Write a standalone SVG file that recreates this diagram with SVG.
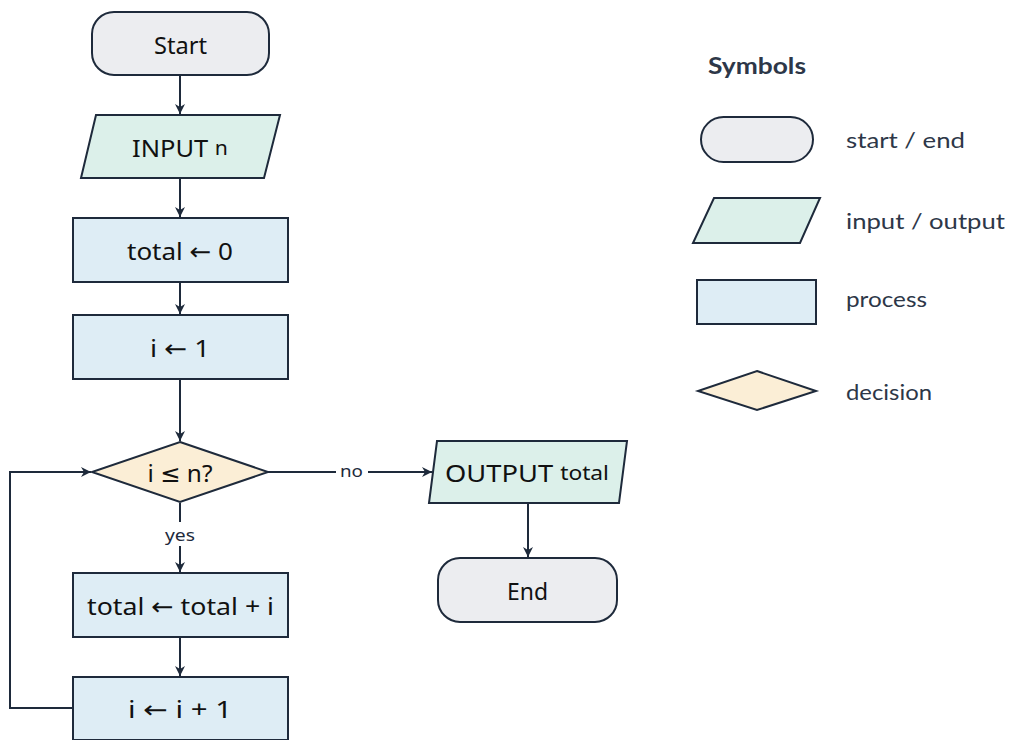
<svg xmlns="http://www.w3.org/2000/svg" width="1009" height="740" viewBox="0 0 1009 740">
  <style>
    .term { fill: #ecedf0; stroke: #1e2a3b; stroke-width: 2; }
    .io { fill: #dcf0ea; stroke: #1e2a3b; stroke-width: 2; }
    .proc { fill: #deedf5; stroke: #1e2a3b; stroke-width: 2; }
    .dec { fill: #fbeed6; stroke: #1e2a3b; stroke-width: 2; }
    .edge { fill: none; stroke: #1e2a3b; stroke-width: 2; }
    .lbl { font-family: "Noto Sans", "DejaVu Sans", sans-serif; font-size: 24px; fill: #111; text-anchor: middle; dominant-baseline: central; }
    .small { font-size: 20px; }
    .elbl { font-family: "Noto Sans", "DejaVu Sans", sans-serif; font-size: 17px; fill: #1e2a3b; text-anchor: middle; dominant-baseline: central; }
    .leg { font-family: Lato, "Open Sans", sans-serif; font-size: 22px; fill: #2d3748; dominant-baseline: central; }
    .legh { font-family: Lato, "Open Sans", sans-serif; font-size: 22px; font-weight: bold; fill: #2d3748; dominant-baseline: central; }
  </style>
  <defs>
    <marker id="arrow" viewBox="0 0 10 10" refX="10" refY="5" markerWidth="10" markerHeight="10" markerUnits="userSpaceOnUse" orient="auto">
      <path d="M0,0 L10,5 L0,10 L3,5 Z" fill="#1e2a3b"/>
    </marker>
  </defs>

  <rect width="1009" height="740" fill="#ffffff"/>

  <!-- connectors -->
  <g id="edges">
    <line class="edge" x1="180" y1="75" x2="180" y2="114" marker-end="url(#arrow)"/>
    <line class="edge" x1="180" y1="178" x2="180" y2="217" marker-end="url(#arrow)"/>
    <line class="edge" x1="180" y1="282" x2="180" y2="314" marker-end="url(#arrow)"/>
    <line class="edge" x1="180" y1="379" x2="180" y2="441" marker-end="url(#arrow)"/>
    <line class="edge" x1="180" y1="503" x2="180" y2="572" marker-end="url(#arrow)"/>
    <line class="edge" x1="180" y1="637" x2="180" y2="676" marker-end="url(#arrow)"/>
    <polyline class="edge" points="73,708 10,708 10,472 91,472" marker-end="url(#arrow)"/>
    <line class="edge" x1="268" y1="472" x2="432" y2="472" marker-end="url(#arrow)"/>
    <line class="edge" x1="528" y1="503" x2="528" y2="557" marker-end="url(#arrow)"/>
    <rect x="163" y="522" width="34" height="24" fill="#ffffff"/>
    <text class="elbl" x="180" y="534" textLength="30" lengthAdjust="spacingAndGlyphs">yes</text>
    <rect x="336" y="460" width="32" height="24" fill="#ffffff"/>
    <text class="elbl" x="351.5" y="470" textLength="23" lengthAdjust="spacingAndGlyphs">no</text>
  </g>

  <!-- flowchart nodes -->
  <g id="start">
    <rect class="term" x="92" y="12" width="177" height="63" rx="22"/>
    <text class="lbl" x="180.5" y="44" textLength="53" lengthAdjust="spacingAndGlyphs">Start</text>
  </g>
  <g id="input">
    <polygon class="io" points="96,115 280,115 264,178 81,178"/>
    <text class="lbl" x="180" y="147" textLength="96" lengthAdjust="spacingAndGlyphs">INPUT <tspan class="small">n</tspan></text>
  </g>
  <g id="init-total">
    <rect class="proc" x="73" y="218" width="215" height="64"/>
    <text class="lbl" x="180" y="250" textLength="106" lengthAdjust="spacingAndGlyphs">total ← 0</text>
  </g>
  <g id="init-i">
    <rect class="proc" x="73" y="315" width="215" height="64"/>
    <text class="lbl" x="180" y="347" textLength="60" lengthAdjust="spacingAndGlyphs">i ← 1</text>
  </g>
  <g id="check">
    <polygon class="dec" points="180,442 268,472 180,502 92,472"/>
    <text class="lbl" x="180" y="472" textLength="65" lengthAdjust="spacingAndGlyphs">i ≤ n?</text>
  </g>
  <g id="accumulate">
    <rect class="proc" x="73" y="573" width="215" height="64"/>
    <text class="lbl" x="180.5" y="605" textLength="187" lengthAdjust="spacingAndGlyphs">total ← total + i</text>
  </g>
  <g id="increment">
    <rect class="proc" x="73" y="677" width="215" height="63"/>
    <text class="lbl" x="180" y="708" textLength="104" lengthAdjust="spacingAndGlyphs">i ← i + 1</text>
  </g>
  <g id="output">
    <polygon class="io" points="437,441 627,441 619,503 429,503"/>
    <text class="lbl" x="527" y="472" textLength="164" lengthAdjust="spacingAndGlyphs">OUTPUT <tspan class="small">total</tspan></text>
  </g>
  <g id="end">
    <rect class="term" x="438" y="558" width="179" height="64" rx="22"/>
    <text class="lbl" x="527.5" y="590" textLength="41" lengthAdjust="spacingAndGlyphs">End</text>
  </g>

  <!-- legend -->
  <g id="legend">
    <text class="legh" x="708" y="65" textLength="98" lengthAdjust="spacingAndGlyphs">Symbols</text>
    <rect class="term" x="701" y="117" width="112" height="45" rx="22.5"/>
    <text class="leg" x="846" y="139" textLength="119" lengthAdjust="spacingAndGlyphs">start / end</text>
    <polygon class="io" points="714,198 820,198 800,243 693,243"/>
    <text class="leg" x="846" y="220" textLength="159" lengthAdjust="spacingAndGlyphs">input / output</text>
    <rect class="proc" x="697" y="280" width="119" height="44"/>
    <text class="leg" x="846" y="298" textLength="81" lengthAdjust="spacingAndGlyphs">process</text>
    <polygon class="dec" points="757,371 816,391 757,410 698,391"/>
    <text class="leg" x="846" y="391" textLength="86" lengthAdjust="spacingAndGlyphs">decision</text>
  </g>
</svg>
